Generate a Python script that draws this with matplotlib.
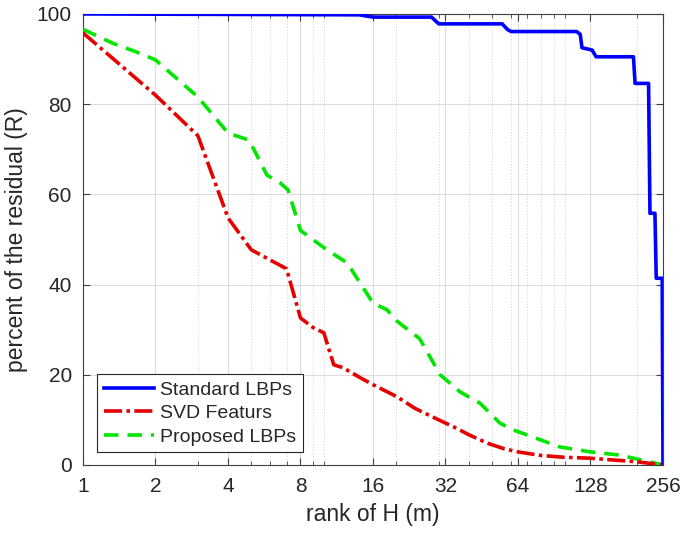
import matplotlib
matplotlib.use("Agg")
import matplotlib.pyplot as plt
from matplotlib.ticker import FixedLocator, NullFormatter

plt.rcParams['font.family'] = ['Liberation Sans', 'DejaVu Sans']

# Standard LBPs (step-like)
std_x = [1, 14, 16, 28, 30, 55, 58, 60, 112, 116, 118, 130, 135, 193, 196, 223, 226, 237, 240, 254, 256]
std_y = [100, 99.8, 99.3, 99.3, 97.8, 97.8, 96.5, 96.1, 96.1, 95.5, 92.5, 92.0, 90.5, 90.5, 84.6, 84.6, 55.8, 55.8, 41.4, 41.4, 0]

# SVD Featurs
svd_x = [1, 2, 3, 4, 5, 7, 8, 9, 10, 11, 12, 14, 16, 20, 24, 30, 36, 40, 48, 56, 64, 80, 100, 128, 160, 200, 256]
svd_y = [95.8, 82, 73.0, 54.8, 47.7, 43.5, 32.6, 30.5, 29.3, 22.2, 21.6, 19.5, 17.8, 15.2, 12.5, 10.0, 8.0, 6.7, 4.8, 3.6, 2.9, 2.1, 1.7, 1.5, 1.1, 0.7, 0]

# Proposed LBPs
prop_x = [1, 1.33, 1.72, 2, 3, 4, 4.9, 5.8, 6.6, 7.1, 8, 10.3, 12.5, 16, 18.3, 20, 25, 30.4, 36.8, 44.5, 53.8, 61, 69.5, 95.5, 128, 169, 256]
prop_y = [96.6, 93.5, 91.3, 89.8, 81.6, 73.6, 72.0, 64.3, 62.5, 61.0, 52.0, 47.7, 44.8, 35.9, 34.4, 32.0, 28.0, 20.0, 16.2, 13.7, 9.3, 7.8, 6.7, 4.0, 2.9, 2.2, 0]

xticks = [1, 2, 4, 8, 16, 32, 64, 128, 256]
yticks = [0, 20, 40, 60, 80, 100]
minor_x = [3, 5, 6, 7, 9, 10, 20, 30, 40, 50, 60, 70, 80, 90, 100, 200]

fig = plt.figure(figsize=(6.8, 5.36), dpi=100)
ax = fig.add_axes([0.122, 0.1325, 0.853, 0.8415])
ax.set_xscale('log', base=2)
ax.set_xlim(1, 256)
ax.set_ylim(0, 100)

txt = '#262626'
ax.plot(std_x, std_y, color='#0000ff', lw=2.6, label='Standard LBPs', zorder=5)
ax.plot(svd_x, svd_y, color='#e60000', lw=2.6, linestyle=(0, (5, 1.2, 1, 1.2)), label='SVD Featurs', zorder=4)
ax.plot(prop_x, prop_y, color='#00e600', lw=2.6, linestyle=(0, (4, 2.5)), label='Proposed LBPs', zorder=3)

ax.xaxis.set_major_locator(FixedLocator(xticks))
ax.set_xticklabels([str(v) for v in xticks])
ax.xaxis.set_minor_locator(FixedLocator(minor_x))
ax.xaxis.set_minor_formatter(NullFormatter())
ax.set_yticks(yticks)

ax.grid(True, which='major', color='#dcdcdc', lw=0.8, linestyle='-')
ax.grid(True, which='minor', axis='x', color='#d0d0d0', lw=0.7, linestyle=(0, (1, 2)))
ax.set_axisbelow(True)

ax.tick_params(which='both', direction='in', top=True, right=True, colors='#404040', labelcolor=txt, labelsize=15)
ax.tick_params(axis='x', which='major', pad=9)
ax.tick_params(axis='y', which='major', pad=8)
ax.tick_params(which='major', length=5)
ax.tick_params(which='minor', length=3)
for s in ax.spines.values():
    s.set_color('#404040')
    s.set_linewidth(0.8)

ax.set_xlabel('rank of H (m)', fontsize=16.5, color=txt, labelpad=5)
ax.set_ylabel('percent of the residual (R)', fontsize=16.5, color=txt, labelpad=6)

leg = ax.legend(loc='lower left', bbox_to_anchor=(0.024, 0.028), fontsize=14, frameon=True, fancybox=False,
                edgecolor='#262626', framealpha=1, handlelength=2.6, handletextpad=0.3, borderpad=0.35,
                labelspacing=0.3, borderaxespad=0)
leg.get_frame().set_linewidth(0.8)
for t in leg.get_texts():
    t.set_color(txt)

fig.savefig('out.png', dpi=100)
